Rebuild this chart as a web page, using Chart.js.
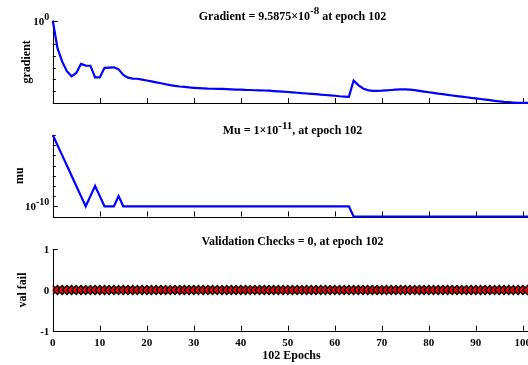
<!DOCTYPE html>
<html>
<head>
<meta charset="utf-8">
<script src="https://cdn.jsdelivr.net/npm/chart.js@4/dist/chart.umd.min.js"></script>
<style>
  html, body { margin: 0; padding: 0; background: #fff; }
  #wrap { position: relative; width: 528px; height: 365px; overflow: hidden; }
  #wrap canvas { position: absolute; left: 0; }
</style>
</head>
<body>
<div id="wrap">
  <canvas id="cGrad" width="540" height="112" style="top:0px"></canvas>
  <canvas id="cMu" width="540" height="113" style="top:112px"></canvas>
  <canvas id="cVal" width="540" height="140" style="top:225px"></canvas>
</div>
<script>
// training state per epoch
const gradient = [
  1.0, 4.5e-3, 3.2e-4, 5.0e-5, 1.8e-5, 3.5e-5, 2.1e-4, 1.5e-4, 1.45e-4, 1.45e-5,
  1.45e-5, 9.5e-5, 1.0e-4, 1.05e-4, 7.1e-5, 2.4e-5, 1.41e-5, 1.17e-5, 1.12e-5, 9.5e-6,
  7.9e-6, 6.6e-6, 5.5e-6, 4.6e-6, 3.8e-6, 3.2e-6, 2.8e-6, 2.45e-6, 2.24e-6, 2.04e-6,
  1.9e-6, 1.78e-6, 1.7e-6, 1.62e-6, 1.58e-6, 1.55e-6, 1.51e-6, 1.45e-6, 1.41e-6, 1.35e-6,
  1.32e-6, 1.26e-6, 1.23e-6, 1.17e-6, 1.15e-6, 1.12e-6, 1.07e-6, 1.0e-6, 9.5e-7, 8.9e-7,
  8.3e-7, 7.8e-7, 7.2e-7, 6.6e-7, 6.2e-7, 5.75e-7, 5.4e-7, 4.9e-7, 4.6e-7, 4.3e-7,
  4.0e-7, 3.6e-7, 3.4e-7, 3.2e-7, 7.9e-6, 3.2e-6, 1.66e-6, 1.2e-6, 1.05e-6, 1.02e-6,
  1.07e-6, 1.15e-6, 1.23e-6, 1.32e-6, 1.38e-6, 1.38e-6, 1.32e-6, 1.2e-6, 1.05e-6, 9.1e-7,
  7.9e-7, 6.9e-7, 6.0e-7, 5.4e-7, 4.8e-7, 4.2e-7, 3.7e-7, 3.3e-7, 2.95e-7, 2.6e-7,
  2.35e-7, 2.1e-7, 1.86e-7, 1.66e-7, 1.48e-7, 1.32e-7, 1.2e-7, 1.12e-7, 1.05e-7, 1.0e-7,
  9.8e-8, 9.7e-8, 9.5875e-8
];
const mu = [
  1e-3, 1e-4, 1e-5, 1e-6, 1e-7, 1e-8, 1e-9, 1e-10, 1e-9, 1e-8,
  1e-9, 1e-10, 1e-10, 1e-10, 1e-9, 1e-10, 1e-10, 1e-10, 1e-10, 1e-10,
  1e-10, 1e-10, 1e-10, 1e-10, 1e-10, 1e-10, 1e-10, 1e-10, 1e-10, 1e-10,
  1e-10, 1e-10, 1e-10, 1e-10, 1e-10, 1e-10, 1e-10, 1e-10, 1e-10, 1e-10,
  1e-10, 1e-10, 1e-10, 1e-10, 1e-10, 1e-10, 1e-10, 1e-10, 1e-10, 1e-10,
  1e-10, 1e-10, 1e-10, 1e-10, 1e-10, 1e-10, 1e-10, 1e-10, 1e-10, 1e-10,
  1e-10, 1e-10, 1e-10, 1e-10, 1e-11, 1e-11, 1e-11, 1e-11, 1e-11, 1e-11,
  1e-11, 1e-11, 1e-11, 1e-11, 1e-11, 1e-11, 1e-11, 1e-11, 1e-11, 1e-11,
  1e-11, 1e-11, 1e-11, 1e-11, 1e-11, 1e-11, 1e-11, 1e-11, 1e-11, 1e-11,
  1e-11, 1e-11, 1e-11, 1e-11, 1e-11, 1e-11, 1e-11, 1e-11, 1e-11, 1e-11,
  1e-11, 1e-11, 1e-11
];
const valFail = [
  0, 0, 0, 0, 0, 0, 0, 0, 0, 0, 0, 0, 0, 0, 0, 0, 0, 0, 0, 0,
  0, 0, 0, 0, 0, 0, 0, 0, 0, 0, 0, 0, 0, 0, 0, 0, 0, 0, 0, 0,
  0, 0, 0, 0, 0, 0, 0, 0, 0, 0, 0, 0, 0, 0, 0, 0, 0, 0, 0, 0,
  0, 0, 0, 0, 0, 0, 0, 0, 0, 0, 0, 0, 0, 0, 0, 0, 0, 0, 0, 0,
  0, 0, 0, 0, 0, 0, 0, 0, 0, 0, 0, 0, 0, 0, 0, 0, 0, 0, 0, 0,
  0, 0, 0
];
const epochs = gradient.map((_, i) => i);
const epochTicks = [0, 10, 20, 30, 40, 50, 60, 70, 80, 90, 100];

// decade ticks, only some of them carry a label
const gradTicks = [1, 1e-1, 1e-2, 1e-3, 1e-4, 1e-5, 1e-6, 1e-7];
const gradTickLabels = ['10^{0}', '', '', '', '', '', '', ''];
const muTicks = [1e-3, 1e-4, 1e-5, 1e-6, 1e-7, 1e-8, 1e-9, 1e-10, 1e-11];
const muTickLabels = ['', '', '', '', '', '', '', '10^{-10}', ''];
const valTicks = [1, 0, -1];
const valTickLabels = ['1', '0', '-1'];

const FONT = '"Liberation Serif", "Times New Roman", serif';

// split "10^{-8}" style strings into normal / superscript runs
function richParts(s) {
  const parts = [];
  const re = /\^\{([^}]*)\}/g;
  let last = 0, m;
  while ((m = re.exec(s))) {
    if (m.index > last) parts.push({ t: s.slice(last, m.index), sup: false });
    parts.push({ t: m[1], sup: true });
    last = re.lastIndex;
  }
  if (last < s.length) parts.push({ t: s.slice(last), sup: false });
  return parts;
}

function drawRich(ctx, s, x, y, align, size) {
  const parts = richParts(s);
  const supSize = Math.round(size * 0.9);
  let total = 0;
  parts.forEach(p => {
    ctx.font = 'bold ' + (p.sup ? supSize : size) + 'px ' + FONT;
    p.w = ctx.measureText(p.t).width;
    total += p.w;
  });
  let cx = align === 'center' ? x - total / 2 : align === 'right' ? x - total : x;
  ctx.textAlign = 'left';
  ctx.textBaseline = 'alphabetic';
  parts.forEach(p => {
    ctx.font = 'bold ' + (p.sup ? supSize : size) + 'px ' + FONT;
    ctx.fillText(p.t, cx, p.sup ? y - size * 0.42 : y);
    cx += p.w;
  });
}

// left/bottom axes with inward ticks, titles and labels
const matlabAxes = {
  id: 'matlabAxes',
  beforeDatasetsDraw(chart, args, o) {
    const { ctx, chartArea: a } = chart;
    const xs = chart.scales.x, ys = chart.scales.y;
    ctx.save();
    ctx.strokeStyle = '#000';
    ctx.lineWidth = 1;
    ctx.beginPath();
    ctx.moveTo(Math.round(a.left) + 0.5, a.top);
    ctx.lineTo(Math.round(a.left) + 0.5, Math.round(a.bottom) + 0.5);
    ctx.lineTo(chart.width, Math.round(a.bottom) + 0.5);
    epochTicks.forEach(t => {
      const px = Math.round(xs.getPixelForValue(t)) + 0.5;
      ctx.moveTo(px, a.bottom);
      ctx.lineTo(px, a.bottom - 5);
    });
    o.yTicks.forEach((v, i) => {
      const py = Math.round(ys.getPixelForValue(v)) + 0.5;
      ctx.moveTo(a.left, py);
      ctx.lineTo(a.left + (o.yTickLabels[i] ? 5 : 3), py);
    });
    ctx.stroke();
    ctx.restore();
  },
  afterDraw(chart, args, o) {
    const { ctx, chartArea: a } = chart;
    const xs = chart.scales.x, ys = chart.scales.y;
    const mid = (a.left + a.right) / 2;
    ctx.save();
    ctx.fillStyle = '#000';
    drawRich(ctx, o.title, mid, o.titleY, 'center', 12);

    o.yTicks.forEach((v, i) => {
      const lab = o.yTickLabels[i];
      if (!lab) return;
      const py = ys.getPixelForValue(v);
      drawRich(ctx, lab, a.left - 3.5, py + 3.8, 'right', 11);
    });

    if (o.xLabels) {
      ctx.font = 'bold 11px ' + FONT;
      ctx.textAlign = 'center';
      ctx.textBaseline = 'alphabetic';
      epochTicks.forEach(t => ctx.fillText(String(t), xs.getPixelForValue(t), a.bottom + 15));
      ctx.font = 'bold 12px ' + FONT;
      ctx.fillText(o.xTitle, mid - 1, a.bottom + 28.5);
    }

    ctx.translate(o.yTitleX, (a.top + a.bottom) / 2);
    ctx.rotate(-Math.PI / 2);
    ctx.font = 'bold 12px ' + FONT;
    ctx.textAlign = 'center';
    ctx.textBaseline = 'alphabetic';
    ctx.fillText(o.yTitle, 0, 0);
    ctx.restore();
  }
};

function panel(id, dataset, yScale, pad, axesOpts) {
  return new Chart(document.getElementById(id), {
    type: 'line',
    data: { labels: epochs, datasets: [dataset] },
    options: {
      responsive: false,
      animation: false,
      devicePixelRatio: 1,
      layout: { padding: pad },
      scales: {
        x: { type: 'linear', min: 0, max: 102, display: false },
        y: Object.assign({ display: false }, yScale)
      },
      plugins: {
        legend: { display: false },
        tooltip: { enabled: false },
        matlabAxes: axesOpts
      }
    },
    plugins: [matlabAxes]
  });
}

// lines sitting on the axis limits are drawn whole, not cut in half
const lineStyle = { borderColor: '#0000ff', borderWidth: 2.2, pointRadius: 0, tension: 0, fill: false, clip: false };

panel('cGrad',
  Object.assign({ data: gradient }, lineStyle),
  { type: 'logarithmic', min: Math.min(...gradient), max: 1 },
  { left: 52.8, right: 7.8, top: 20.7, bottom: 9 },
  { title: 'Gradient = 9.5875×10^{-8} at epoch 102', titleY: 19.5, yTitle: 'gradient', yTitleX: 29.5,
    yTicks: gradTicks, yTickLabels: gradTickLabels });

panel('cMu',
  Object.assign({ data: mu }, lineStyle),
  { type: 'logarithmic', min: 1e-11, max: 1e-3 },
  { left: 52.8, right: 7.8, top: 23, bottom: 8.5 },
  { title: 'Mu = 1×10^{-11}, at epoch 102', titleY: 22, yTitle: 'mu', yTitleX: 22.7,
    yTicks: muTicks, yTickLabels: muTickLabels });

panel('cVal',
  { data: valFail, showLine: false, pointStyle: 'rectRot', pointRadius: 4.5,
    pointBackgroundColor: '#ff0000', pointBorderColor: '#000', pointBorderWidth: 1.4 },
  { type: 'linear', min: -1, max: 1 },
  { left: 52.8, right: 7.8, top: 24.3, bottom: 34.3 },
  { title: 'Validation Checks = 0, at epoch 102', titleY: 20, yTitle: 'val fail', yTitleX: 25.7,
    yTicks: valTicks, yTickLabels: valTickLabels, xLabels: true, xTitle: '102 Epochs' });
</script>
</body>
</html>
